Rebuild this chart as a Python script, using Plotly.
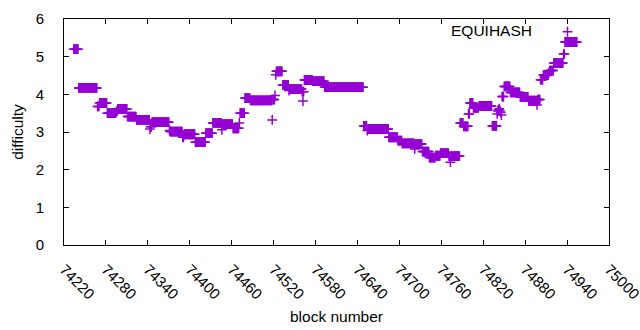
import plotly.graph_objects as go

# Runs of consecutive blocks sharing one difficulty value (first block, last block, difficulty)
seg_first = [74234, 74241, 74268, 74271, 74282, 74295, 74297, 74311, 74324, 74343,
             74344, 74346, 74371, 74372, 74390, 74392, 74408, 74423, 74433, 74446,
             74447, 74462, 74471, 74472, 74479, 74487, 74518, 74519, 74522, 74523,
             74524, 74533, 74542, 74543, 74561, 74562, 74563, 74564, 74576, 74593,
             74649, 74654, 74655, 74685, 74698, 74704, 74722, 74723, 74733, 74743,
             74752, 74759, 74771, 74773, 74774, 74787, 74792, 74799, 74801, 74806,
             74814, 74833, 74840, 74841, 74842, 74843, 74844, 74845, 74846, 74847,
             74850, 74859, 74873, 74885, 74897, 74898, 74902, 74906, 74914, 74915,
             74921, 74935, 74937]
seg_last = [74240, 74267, 74270, 74281, 74294, 74296, 74310, 74323, 74342, 74343,
            74345, 74370, 74371, 74389, 74391, 74407, 74422, 74432, 74445, 74446,
            74461, 74470, 74471, 74478, 74486, 74517, 74518, 74521, 74522, 74523,
            74532, 74541, 74542, 74560, 74561, 74562, 74563, 74575, 74592, 74648,
            74653, 74654, 74684, 74697, 74703, 74721, 74722, 74732, 74742, 74751,
            74758, 74770, 74772, 74773, 74786, 74791, 74798, 74800, 74805, 74813,
            74832, 74839, 74840, 74841, 74842, 74843, 74844, 74845, 74846, 74849,
            74858, 74872, 74884, 74896, 74897, 74901, 74905, 74913, 74914, 74920,
            74934, 74936, 74954]
seg_value = [5.20, 4.17, 3.68, 3.77, 3.50, 3.55, 3.61, 3.41, 3.32, 3.08,
             3.14, 3.26, 3.04, 3.01, 2.86, 2.94, 2.73, 2.97, 3.24, 3.06,
             3.21, 3.10, 3.24, 3.50, 3.90, 3.84, 3.32, 3.86, 3.97, 4.52,
             4.61, 4.25, 4.10, 4.14, 4.07, 3.82, 4.07, 4.38, 4.35, 4.19,
             3.16, 3.04, 3.08, 2.86, 2.77, 2.70, 2.55, 2.68, 2.48, 2.32,
             2.37, 2.44, 2.36, 2.20, 2.36, 3.24, 3.15, 3.48, 3.77, 3.64,
             3.69, 3.16, 3.48, 3.56, 3.59, 3.62, 3.56, 3.52, 3.45, 3.94,
             4.21, 4.05, 3.93, 3.83, 3.72, 3.86, 4.39, 4.51, 4.57, 4.63,
             4.83, 5.07, 5.39]

x_ticks = [74220, 74280, 74340, 74400, 74460, 74520, 74580, 74640, 74700,
           74760, 74820, 74880, 74940, 75000]
y_ticks = [0, 1, 2, 3, 4, 5, 6]
series_name = "EQUIHASH"

blocks, diffs = [], []
for a, b, v in zip(seg_first, seg_last, seg_value):
    for blk in range(a, b + 1):
        blocks.append(blk)
        diffs.append(v)

PURPLE = "#9400D3"
FONT = "Liberation Sans, Arial, sans-serif"

fig = go.Figure()
fig.add_trace(go.Scatter(
    x=blocks, y=diffs, mode="markers", name=" ",
    marker=dict(symbol="cross-thin", size=7, color=PURPLE,
                line=dict(color=PURPLE, width=1.5)),
    showlegend=True,
))

axis_common = dict(
    showline=True, linecolor="black", linewidth=1, mirror="ticks",
    ticks="inside", ticklen=5, tickcolor="black", tickwidth=1,
    showgrid=False, zeroline=False, automargin=False,
    ticklabeloverflow="allow",
    tickfont=dict(family=FONT, size=15, color="black"),
)

fig.update_layout(
    template="none",
    width=640, height=330,
    margin=dict(l=64, r=31, t=19, b=85, autoexpand=False),
    paper_bgcolor="white", plot_bgcolor="white",
    font=dict(family=FONT, size=15, color="black"),
    xaxis=dict(range=[74220, 75000], tickvals=x_ticks,
               ticktext=[str(t) for t in x_ticks], tickangle=45,
               ticklabelstandoff=9,
               title=dict(text="block number", standoff=9,
                          font=dict(family=FONT, size=15.5)),
               **axis_common),
    yaxis=dict(range=[0, 6], tickvals=y_ticks,
               ticktext=[str(t) for t in y_ticks],
               ticklabelstandoff=16,
               title=dict(text="difficulty", standoff=8,
                          font=dict(family=FONT, size=15.5)),
               **axis_common),
    legend=dict(x=(568.5 - 64 - 21) / 545, y=(245 - 32) / 226,
                xanchor="left", yanchor="middle",
                bgcolor="rgba(0,0,0,0)", borderwidth=0,
                font=dict(family=FONT, size=15)),
    annotations=[dict(text=series_name, xref="paper", yref="paper",
                      x=(534 - 64) / 545, y=(245 - 31) / 226,
                      xanchor="right", yanchor="middle", showarrow=False,
                      font=dict(family=FONT, size=15.5, color="black"))],
)

fig.write_html("out.html", config={"displayModeBar": False},
               post_script="document.body.style.margin='0';")
